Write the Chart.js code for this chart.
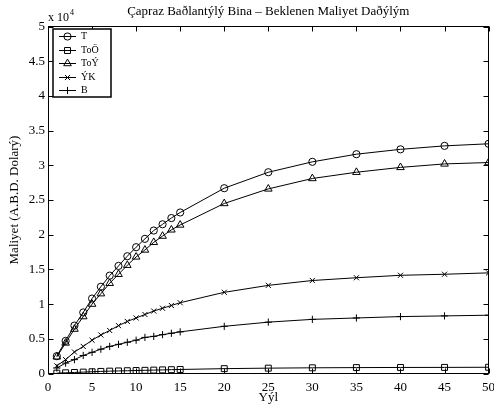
<!DOCTYPE html>
<html><head><meta charset="utf-8">
<script src="https://cdn.jsdelivr.net/npm/chart.js@4/dist/chart.umd.min.js"></script>
<style>html,body{margin:0;padding:0;background:#fff}</style>
</head><body>
<canvas id="c" width="494" height="414"></canvas>
<script>
// ---- data (cost in units of 10^4 USD) ----
const years = [1,2,3,4,5,6,7,8,9,10,11,12,13,14,15,20,25,30,35,40,45,50];
const seriesNames = ['T','ToÖ','ToÝ','ÝK','B'];
const valT   = [0.25,0.47,0.69,0.88,1.08,1.25,1.41,1.55,1.69,1.82,1.94,2.06,2.15,2.24,2.32,2.67,2.90,3.05,3.16,3.23,3.28,3.31];
const valToO = [0.005,0.01,0.015,0.02,0.025,0.03,0.034,0.037,0.04,0.043,0.046,0.049,0.052,0.055,0.058,0.07,0.077,0.082,0.085,0.087,0.088,0.09];
const valToY = [0.24,0.44,0.64,0.82,1.00,1.15,1.30,1.43,1.56,1.68,1.78,1.89,1.98,2.07,2.14,2.45,2.66,2.81,2.90,2.97,3.02,3.04];
const valYK  = [0.11,0.20,0.31,0.39,0.48,0.555,0.62,0.69,0.75,0.80,0.85,0.90,0.94,0.98,1.02,1.17,1.27,1.34,1.38,1.415,1.43,1.45];
const valB   = [0.08,0.15,0.20,0.26,0.305,0.35,0.39,0.42,0.45,0.48,0.52,0.535,0.56,0.58,0.60,0.68,0.74,0.78,0.80,0.82,0.83,0.84];
const xTickValues = [0,5,10,15,20,25,30,35,40,45,50];
const xTickLabels = ['0','5','10','15','20','25','30','35','40','45','50'];
const yTickValues = [0,0.5,1,1.5,2,2.5,3,3.5,4,4.5,5];
const yTickLabels = ['0','0.5','1','1.5','2','2.5','3','3.5','4','4.5','5'];
const titleText = 'Çapraz Baðlantýlý Bina – Beklenen Maliyet Daðýlým';
const xTitleText = 'Yýl';
const yTitleText = 'Maliyet (A.B.D. Dolarý)';
const exponentBase = 'x 10';
const exponentPow = '4';

const SERIF = '"Liberation Serif", "Times New Roman", serif';
const seriesValues = [valT, valToO, valToY, valYK, valB];
const markerStyles = [
  {pointStyle:'circle', radius:3.6},
  {pointStyle:'rect', radius:4.2},
  {pointStyle:'triangle', radius:4.4},
  {pointStyle:'crossRot', radius:3.6},
  {pointStyle:'cross', radius:3.6}
];

function drawMarker(ctx, style, r, x, y){
  ctx.beginPath();
  if (style==='circle'){ ctx.arc(x,y,r,0,Math.PI*2); }
  else if (style==='rect'){ const s=r*Math.SQRT1_2; ctx.rect(x-s,y-s,2*s,2*s); }
  else if (style==='triangle'){
    let a=0; ctx.moveTo(x+Math.sin(a)*r, y-Math.cos(a)*r);
    a+=2*Math.PI/3; ctx.lineTo(x+Math.sin(a)*r, y-Math.cos(a)*r);
    a+=2*Math.PI/3; ctx.lineTo(x+Math.sin(a)*r, y-Math.cos(a)*r); ctx.closePath();
  } else if (style==='crossRot'){ const s=r*Math.SQRT1_2; ctx.moveTo(x-s,y-s);ctx.lineTo(x+s,y+s);ctx.moveTo(x+s,y-s);ctx.lineTo(x-s,y+s); }
  else if (style==='cross'){ ctx.moveTo(x,y-r);ctx.lineTo(x,y+r);ctx.moveTo(x-r,y);ctx.lineTo(x+r,y); }
  ctx.stroke();
}

const decor = {
  id:'decor',
  afterDraw(chart){
    const ctx=chart.ctx, a=chart.chartArea, xs=chart.scales.x, ys=chart.scales.y;
    ctx.save();
    ctx.strokeStyle='#000'; ctx.lineWidth=1;
    const L=Math.floor(a.left)+0.5, R=Math.floor(a.right)+0.5, T=Math.floor(a.top)+0.5, B=Math.floor(a.bottom)+0.5;
    ctx.strokeRect(L,T,R-L,B-T);
    const tl=5;
    ctx.beginPath();
    xTickValues.forEach(v=>{ const px=Math.round(xs.getPixelForValue(v))+0.5;
      ctx.moveTo(px,B); ctx.lineTo(px,B-tl); ctx.moveTo(px,T); ctx.lineTo(px,T+tl); });
    yTickValues.forEach(v=>{ const py=Math.round(ys.getPixelForValue(v))+0.5;
      ctx.moveTo(L,py); ctx.lineTo(L+tl,py); ctx.moveTo(R,py); ctx.lineTo(R-tl,py); });
    ctx.stroke();
    // title
    ctx.fillStyle='#000';
    ctx.font='13px '+SERIF; ctx.textAlign='center'; ctx.textBaseline='middle';
    ctx.fillText(titleText,(a.left+a.right)/2,12);
    // exponent
    ctx.textAlign='left'; ctx.textBaseline='alphabetic';
    ctx.font='12px '+SERIF;
    ctx.fillText(exponentBase,48,21);
    const w=ctx.measureText(exponentBase).width;
    ctx.font='8px '+SERIF;
    ctx.fillText(exponentPow,48+w+1,15);
    // legend
    const bx=53, by=29, bw=58, bh=68;
    ctx.fillStyle='#fff'; ctx.fillRect(bx,by,bw,bh);
    ctx.lineWidth=1.5; ctx.strokeStyle='#000'; ctx.strokeRect(bx,by,bw,bh);
    ctx.lineWidth=1;
    ctx.font='10px '+SERIF; ctx.textBaseline='middle'; ctx.textAlign='left';
    seriesNames.forEach((n,i)=>{
      const y=Math.round(36+i*13.6)+0.5;
      ctx.beginPath(); ctx.moveTo(59,y); ctx.lineTo(76,y); ctx.stroke();
      drawMarker(ctx, markerStyles[i].pointStyle, markerStyles[i].radius, 67.5, y);
      ctx.fillStyle='#000'; ctx.fillText(n,81,y);
    });
    ctx.restore();
  }
};

const datasets = seriesNames.map((n,i)=>({
  label:n,
  data: years.map((x,j)=>({x:x, y:seriesValues[i][j]})),
  borderColor:'#000', borderWidth:1, tension:0, fill:false,
  pointStyle: markerStyles[i].pointStyle,
  pointRadius: markerStyles[i].radius,
  pointBorderColor:'#000', pointBackgroundColor:'rgba(0,0,0,0)', pointBorderWidth:1
}));

new Chart(document.getElementById('c'),{
  type:'line',
  data:{datasets},
  plugins:[decor],
  options:{
    responsive:false, animation:false, devicePixelRatio:1,
    layout:{padding:{top:26.5,right:1,left:0,bottom:0}},
    plugins:{legend:{display:false}, title:{display:false}, tooltip:{enabled:false}},
    scales:{
      x:{type:'linear', min:0, max:50,
        afterBuildTicks:s=>{ s.ticks=xTickValues.map(v=>({value:v})); },
        afterFit:s=>{ s.height=40.5; s.paddingLeft=0; s.paddingRight=0; },
        grid:{display:false, drawTicks:false}, border:{display:false},
        ticks:{padding:6, color:'#000', font:{family:SERIF,size:13}, maxRotation:0, autoSkip:false,
          callback:(v,i)=>xTickLabels[i]},
        title:{display:true, text:xTitleText, color:'#000', font:{family:SERIF,size:13}, padding:{top:0,bottom:9}}
      },
      y:{type:'linear', min:0, max:5,
        afterBuildTicks:s=>{ s.ticks=yTickValues.map(v=>({value:v})); },
        afterFit:s=>{ s.width=48; s.paddingTop=0; s.paddingBottom=0; },
        grid:{display:false, drawTicks:false}, border:{display:false},
        ticks:{padding:3, color:'#000', font:{family:SERIF,size:13}, autoSkip:false,
          callback:(v,i)=>yTickLabels[i]},
        title:{display:true, text:yTitleText, color:'#000', font:{family:SERIF,size:13}, padding:{top:7,bottom:0}}
      }
    }
  }
});
</script>
</body></html>
